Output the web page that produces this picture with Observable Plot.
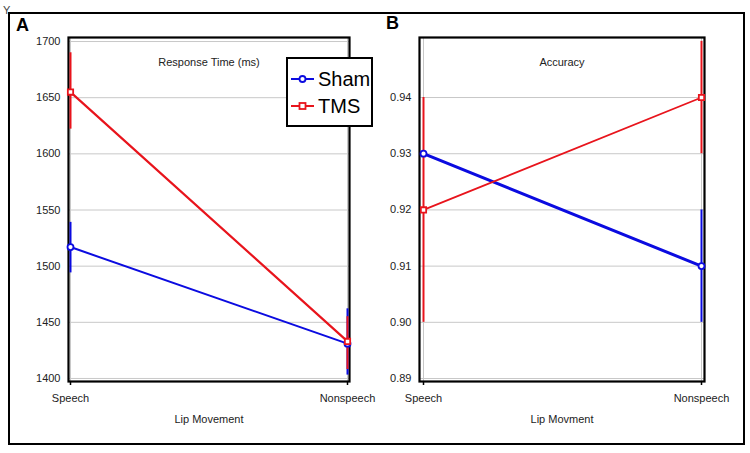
<!DOCTYPE html>
<html>
<head>
<meta charset="utf-8">
<script src="https://cdn.jsdelivr.net/npm/d3@7"></script>
<script src="https://cdn.jsdelivr.net/npm/@observablehq/plot@0.6"></script>
<style>
  html, body { margin: 0; padding: 0; background: #fff; }
  #wrap { position: relative; width: 750px; height: 453px; overflow: hidden; font-family: "Liberation Sans", Arial, sans-serif; }
  #wrap svg.plot { position: absolute; top: 0; }
  .abs { position: absolute; }
  #border { left: 8px; top: 12px; width: 733px; height: 429px; border: 2.5px solid #000; }
  .letter { font-weight: bold; font-size: 18px; color: #000; }
  #legend { left: 286px; top: 57px; width: 83px; height: 66px; border: 2px solid #000; background: #fff; }
  .lg { position: absolute; left: 2px; font-size: 20px; line-height: 20px; display: flex; align-items: center; }
</style>
</head>
<body>
<div id="wrap">
  <div class="abs" style="left:3px;top:4px;font-size:11px;color:#444;">Y</div>
  <div id="border" class="abs"></div>
</div>
<script>
// ---- data ----
const categories = ["Speech", "Nonspeech"];
const series = ["Sham", "TMS"];
const colors = ["#0b0be0", "#e8141c"];
const symbols = ["circle", "square"];

// Panel A: response time (ms)
const rtSham = [1517, 1431];
const rtShamLo = [1494, 1403];
const rtShamHi = [1539, 1462];
const rtTms = [1655, 1433];
const rtTmsLo = [1622, 1408];
const rtTmsHi = [1690, 1455];
const rtTicks = [1400, 1450, 1500, 1550, 1600, 1650, 1700];

// Panel B: accuracy (Sham/Speech error bar not visible in the source)
const accSham = [0.93, 0.91];
const accShamLo = [0.93, 0.90];
const accShamHi = [0.93, 0.92];
const accTms = [0.92, 0.94];
const accTmsLo = [0.90, 0.93];
const accTmsHi = [0.94, 0.95];
const accTicks = [0.89, 0.90, 0.91, 0.92, 0.93, 0.94];

function rows(name, mean, lo, hi) {
  return categories.map((c, i) => ({series: name, cat: c, v: mean[i], lo: lo[i], hi: hi[i]}));
}

function panel({data, ticks, yDomain, fmt, title, xlabel, padding, left, width, mLeft, mRight, lineWidths}) {
  const bySeries = series.map(s => data.filter(d => d.series === s));
  const marks = [
    Plot.gridY(ticks, {stroke: "#c8c8c8", strokeOpacity: 1, strokeWidth: 1}),
    Plot.gridX(categories, {stroke: "#c8c8c8", strokeOpacity: 1, strokeWidth: 1}),
    Plot.frame({stroke: "#000", strokeWidth: 2.2}),
    Plot.axisY(ticks, {tickSize: 0, tickPadding: 8, tickFormat: fmt, fontSize: 11, color: "#222", label: null}),
    Plot.axisX(categories, {tickSize: 4, tickPadding: 9, fontSize: 11, color: "#222", stroke: "#000", strokeWidth: 1.5, label: null}),
    Plot.text([title], {frameAnchor: "top", dy: 21, fontSize: 11, fill: "#222"}),
    Plot.text([xlabel], {frameAnchor: "bottom", dy: 41, fontSize: 11, fill: "#222"})
  ];
  bySeries.forEach((d, i) => {
    marks.push(Plot.ruleX(d.filter(r => r.hi > r.lo), {x: "cat", y1: "lo", y2: "hi", stroke: colors[i], strokeWidth: 2}));
  });
  bySeries.forEach((d, i) => {
    marks.push(Plot.line(d, {x: "cat", y: "v", stroke: colors[i], strokeWidth: lineWidths[i]}));
  });
  bySeries.forEach((d, i) => {
    marks.push(Plot.dot(d, {x: "cat", y: "v", symbol: symbols[i], r: 3, fill: "#fff", stroke: colors[i], strokeWidth: 1.8}));
  });
  const svg = Plot.plot({
    width, height: 453,
    marginLeft: mLeft, marginRight: mRight, marginTop: 37, marginBottom: 72,
    x: {type: "point", domain: categories, padding},
    y: {domain: yDomain},
    style: {fontFamily: "'Liberation Sans', Arial, sans-serif", background: "transparent", overflow: "visible"},
    marks
  });
  svg.classList.add("plot");
  svg.style.left = left + "px";
  return svg;
}

const wrap = document.getElementById("wrap");

const dataA = [...rows("Sham", rtSham, rtShamLo, rtShamHi), ...rows("TMS", rtTms, rtTmsLo, rtTmsHi)];
const dataB = [...rows("Sham", accSham, accShamLo, accShamHi), ...rows("TMS", accTms, accTmsLo, accTmsHi)];

wrap.appendChild(panel({
  data: dataA, ticks: rtTicks, yDomain: [1397.3, 1703.6], fmt: d3.format("d"),
  title: "Response Time (ms)", xlabel: "Lip Movement", padding: 0.0072,
  left: 0, width: 380, mLeft: 68, mRight: 31, lineWidths: [2, 2.2]
}));
wrap.appendChild(panel({
  data: dataB, ticks: accTicks, yDomain: [0.88947, 0.95068], fmt: d3.format(".2f"),
  title: "Accuracy", xlabel: "Lip Movment", padding: 0.0108,
  left: 375, width: 375, mLeft: 44, mRight: 46, lineWidths: [3, 1.8]
}));

// panel letters
const la = document.createElement("div"); la.className = "abs letter"; la.style.left = "16px"; la.style.top = "15px"; la.textContent = "A"; wrap.appendChild(la);
const lb = document.createElement("div"); lb.className = "abs letter"; lb.style.left = "386px"; lb.style.top = "13px"; lb.textContent = "B"; wrap.appendChild(lb);

// legend
const legend = document.createElement("div");
legend.id = "legend"; legend.className = "abs";
series.forEach((s, i) => {
  const row = document.createElement("div");
  row.className = "lg";
  row.style.top = (i === 0 ? 10 : 37) + "px";
  const ns = "http://www.w3.org/2000/svg";
  const ic = document.createElementNS(ns, "svg");
  ic.setAttribute("width", 26); ic.setAttribute("height", 12);
  const ln = document.createElementNS(ns, "line");
  ln.setAttribute("x1", 1); ln.setAttribute("x2", 24); ln.setAttribute("y1", 6); ln.setAttribute("y2", 6);
  ln.setAttribute("stroke", colors[i]); ln.setAttribute("stroke-width", 2);
  ic.appendChild(ln);
  let m;
  if (symbols[i] === "circle") {
    m = document.createElementNS(ns, "circle");
    m.setAttribute("cx", 12.5); m.setAttribute("cy", 6); m.setAttribute("r", 3);
  } else {
    m = document.createElementNS(ns, "rect");
    m.setAttribute("x", 9.5); m.setAttribute("y", 3); m.setAttribute("width", 6); m.setAttribute("height", 6);
  }
  m.setAttribute("fill", "#fff"); m.setAttribute("stroke", colors[i]); m.setAttribute("stroke-width", 1.8);
  ic.appendChild(m);
  row.appendChild(ic);
  const t = document.createElement("span");
  t.textContent = s; t.style.marginLeft = "2px";
  row.appendChild(t);
  legend.appendChild(row);
});
wrap.appendChild(legend);
</script>
</body>
</html>
